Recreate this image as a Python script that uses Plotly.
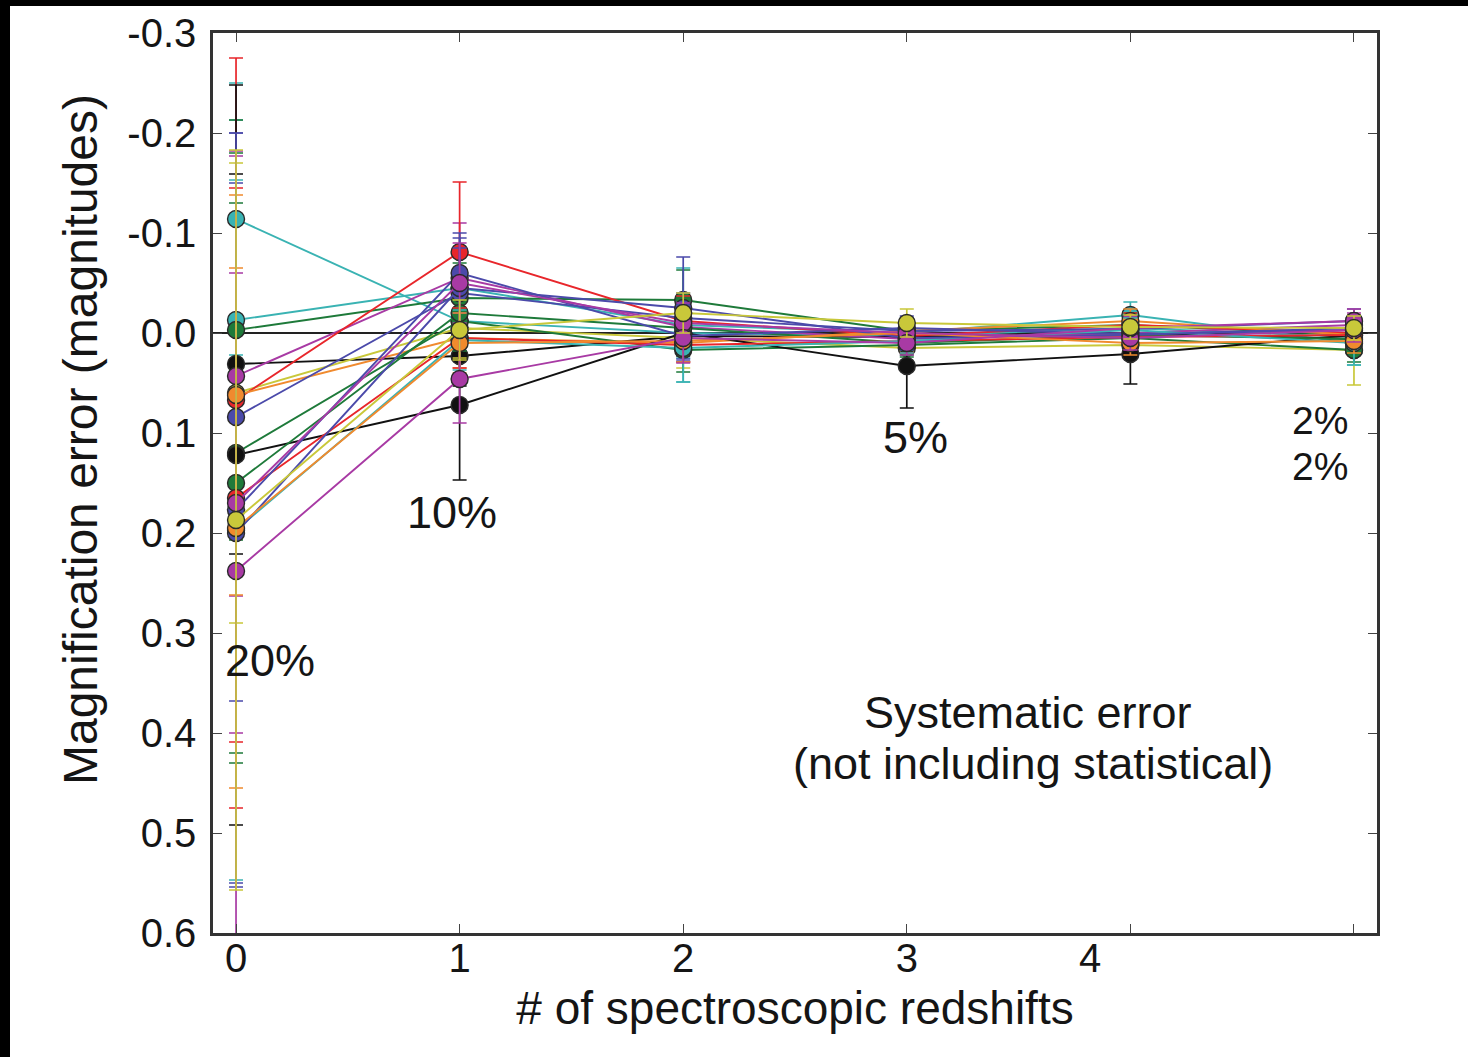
import plotly.graph_objects as go

# ---------------- data ----------------
n_spec = [0, 1, 2, 3, 4, 5]

y_tick_vals = [-0.3, -0.2, -0.1, 0.0, 0.1, 0.2, 0.3, 0.4, 0.5, 0.6]
y_tick_text = ["-0.3", "-0.2", "-0.1", "0.0", "0.1", "0.2", "0.3", "0.4", "0.5", "0.6"]
x_label_vals = [0, 1, 2, 3, 3.82]
x_label_text = ["0", "1", "2", "3", "4"]
x_tick_marks = [0, 1, 2, 3, 4, 5]

RED = "#e8262b"
GREEN = "#1e7a3a"
BLUE = "#4b4aaa"
TEAL = "#3ab3b3"
MAGENTA = "#a83aa4"
YELLOW = "#c9c83a"
BLACK = "#111111"
ORANGE = "#f08a2e"

s01_color = TEAL;    s01_y = [-0.114, -0.012, 0.000, 0.003, -0.005, 0.004];  s01_err = [0.136, 0.030, 0.025, 0.015, 0.012, 0.012]
s02_color = TEAL;    s02_y = [-0.013, -0.045, -0.008, 0.000, -0.018, 0.010];  s02_err = [0.200, 0.040, 0.057, 0.015, 0.013, 0.022]
s03_color = GREEN;   s03_y = [-0.003, -0.035, -0.033, -0.002, -0.008, 0.002]; s03_err = [0.210, 0.035, 0.030, 0.012, 0.012, 0.012]
s04_color = BLACK;   s04_y = [0.031, 0.023, 0.003, 0.004, 0.000, 0.006];      s04_err = [0.190, 0.030, 0.020, 0.012, 0.012, 0.012]
s05_color = MAGENTA; s05_y = [0.043, -0.055, -0.006, 0.006, 0.000, -0.008];   s05_err = [0.220, 0.055, 0.025, 0.012, 0.012, 0.012]
s06_color = YELLOW;  s06_y = [0.060, -0.005, 0.005, 0.015, 0.012, 0.017];     s06_err = [0.230, 0.030, 0.030, 0.014, 0.012, 0.035]
s07_color = RED;     s07_y = [0.067, -0.081, -0.012, 0.003, -0.008, 0.000];   s07_err = [0.342, 0.070, 0.025, 0.012, 0.012, 0.012]
s08_color = ORANGE;  s08_y = [0.062, 0.005, 0.010, -0.002, -0.012, 0.002];    s08_err = [0.200, 0.030, 0.019, 0.012, 0.012, 0.012]
s09_color = BLUE;    s09_y = [0.084, -0.040, -0.015, -0.002, -0.004, -0.012]; s09_err = [0.284, 0.055, 0.025, 0.012, 0.012, 0.012]
s10_color = GREEN;   s10_y = [0.120, -0.012, 0.017, 0.012, 0.005, 0.017];     s10_err = [0.300, 0.030, 0.022, 0.012, 0.012, 0.012]
s11_color = BLACK;   s11_y = [0.122, 0.072, 0.000, 0.033, 0.021, 0.002];      s11_err = [0.370, 0.075, 0.020, 0.042, 0.030, 0.012]
s12_color = GREEN;   s12_y = [0.150, -0.020, -0.005, 0.010, 0.002, 0.006];    s12_err = [0.280, 0.030, 0.020, 0.012, 0.012, 0.012]
s13_color = RED;     s13_y = [0.165, 0.005, 0.012, 0.008, 0.004, 0.002];      s13_err = [0.310, 0.030, 0.017, 0.012, 0.012, 0.012]
s14_color = BLUE;    s14_y = [0.177, -0.060, 0.003, -0.005, 0.001, -0.003];   s14_err = [0.377, 0.040, 0.025, 0.012, 0.012, 0.012]
s16_color = TEAL;    s16_y = [0.197, 0.007, 0.015, 0.008, -0.003, 0.010];     s16_err = [0.350, 0.030, 0.034, 0.012, 0.012, 0.022]
s17_color = BLUE;    s17_y = [0.200, -0.045, -0.025, 0.005, 0.002, -0.005];   s17_err = [0.350, 0.040, 0.051, 0.012, 0.012, 0.012]
s19_color = ORANGE;  s19_y = [0.195, 0.010, 0.008, 0.000, 0.010, 0.008];      s19_err = [0.260, 0.030, 0.021, 0.012, 0.012, 0.012]
s20_color = MAGENTA; s20_y = [0.170, -0.050, -0.010, 0.000, 0.005, -0.003];   s20_err = [0.230, 0.040, 0.020, 0.012, 0.012, 0.012]
s18_color = MAGENTA; s18_y = [0.238, 0.046, 0.005, 0.010, -0.005, -0.012];    s18_err = [0.420, 0.044, 0.025, 0.012, 0.012, 0.012]
s15_color = YELLOW;  s15_y = [0.187, -0.003, -0.020, -0.010, -0.006, -0.005]; s15_err = [0.370, 0.030, 0.020, 0.014, 0.012, 0.012]

series = [
    (s01_color, s01_y, s01_err), (s02_color, s02_y, s02_err), (s03_color, s03_y, s03_err),
    (s04_color, s04_y, s04_err), (s05_color, s05_y, s05_err), (s06_color, s06_y, s06_err),
    (s07_color, s07_y, s07_err), (s08_color, s08_y, s08_err), (s09_color, s09_y, s09_err),
    (s10_color, s10_y, s10_err), (s11_color, s11_y, s11_err), (s12_color, s12_y, s12_err),
    (s13_color, s13_y, s13_err), (s14_color, s14_y, s14_err), (s16_color, s16_y, s16_err),
    (s17_color, s17_y, s17_err), (s19_color, s19_y, s19_err), (s20_color, s20_y, s20_err),
    (s18_color, s18_y, s18_err), (s15_color, s15_y, s15_err),
]

# ---------------- figure ----------------
FONT = "Liberation Sans, Arial, Helvetica, sans-serif"
W, H = 1468, 1057
ML, MR, MT, MB = 213, 91, 33, 124
PW, PH = W - ML - MR, H - MT - MB

fig = go.Figure()
for color, yv, ev in series:
    fig.add_trace(go.Scatter(
        x=n_spec, y=yv, mode="lines+markers",
        line=dict(color=color, width=1.9),
        marker=dict(size=17, color=color, line=dict(color="#2a2a2a", width=1.4)),
        error_y=dict(type="data", array=ev, visible=True, color=color, thickness=1.7, width=7),
        showlegend=False, hoverinfo="skip",
    ))

# invisible trace so the tick-mark axis is built
fig.add_trace(go.Scatter(x=[], y=[], xaxis="x2", showlegend=False, hoverinfo="skip"))

annotations = [
    ("20%", 0.152, 0.327, 45), ("10%", 0.966, 0.179, 45), ("5%", 3.037, 0.104, 45),
    ("2%", 4.848, 0.087, 39), ("2%", 4.848, 0.133, 39),
    ("Systematic error", 3.542, 0.379, 45), ("(not including statistical)", 3.564, 0.430, 45),
]
for txt, ax_, ay_, fs in annotations:
    fig.add_annotation(x=ax_, y=ay_, text=txt, showarrow=False,
                       font=dict(family=FONT, size=fs, color="#151515"),
                       xanchor="center", yanchor="middle")

# y-axis title (placed slightly above the axis centre as in the original)
fig.add_annotation(xref="paper", yref="paper", x=(80 - ML) / PW, y=1 - (440 - MT) / PH,
                   text="Magnification error (magnitudes)", textangle=-90, showarrow=False,
                   font=dict(family=FONT, size=48, color="#151515"),
                   xanchor="center", yanchor="middle")

# black frame strips at top and left edge of the picture
fig.add_shape(type="rect", xref="paper", yref="paper", layer="above",
              x0=-ML / PW - 0.01, x1=(10 - ML) / PW, y0=-MB / PH - 0.01, y1=1 + MT / PH + 0.01,
              fillcolor="black", line=dict(width=0))
fig.add_shape(type="rect", xref="paper", yref="paper", layer="above",
              x0=-ML / PW - 0.01, x1=1 + MR / PW + 0.01, y0=1 + (MT - 6) / PH, y1=1 + MT / PH + 0.01,
              fillcolor="black", line=dict(width=0))

fig.update_layout(
    width=W, height=H,
    margin=dict(l=ML, r=MR, t=MT, b=MB, pad=0),
    paper_bgcolor="white", plot_bgcolor="white",
    font=dict(family=FONT, color="#151515"),
    xaxis=dict(
        range=[-0.103, 5.103], tickmode="array", tickvals=x_label_vals, ticktext=x_label_text,
        ticks="", showgrid=False, zeroline=False,
        showline=True, linecolor="#333333", linewidth=2.5, mirror=True,
        tickfont=dict(family=FONT, size=40, color="#151515"),
        ticklabelstandoff=-12,
        title=dict(text="# of spectroscopic redshifts", font=dict(family=FONT, size=46, color="#151515"), standoff=14),
    ),
    xaxis2=dict(
        range=[-0.103, 5.103], overlaying="x", anchor="y", side="bottom",
        tickmode="array", tickvals=x_tick_marks, ticks="inside", ticklen=9, tickwidth=1.3,
        tickcolor="#444444", showticklabels=False, showgrid=False, zeroline=False,
        showline=False, mirror="ticks",
    ),
    yaxis=dict(
        range=[0.6, -0.3], tickmode="array", tickvals=y_tick_vals, ticktext=y_tick_text,
        ticks="inside", ticklen=9, tickwidth=1.3, tickcolor="#444444",
        showgrid=False, zeroline=True, zerolinecolor="#222222", zerolinewidth=2,
        showline=True, linecolor="#333333", linewidth=2.5, mirror="ticks",
        tickfont=dict(family=FONT, size=40, color="#151515"),
        ticklabelstandoff=6,
    ),
)

fig.write_html("out.html", config={"displayModeBar": False},
               post_script="document.body.style.margin='0';")
